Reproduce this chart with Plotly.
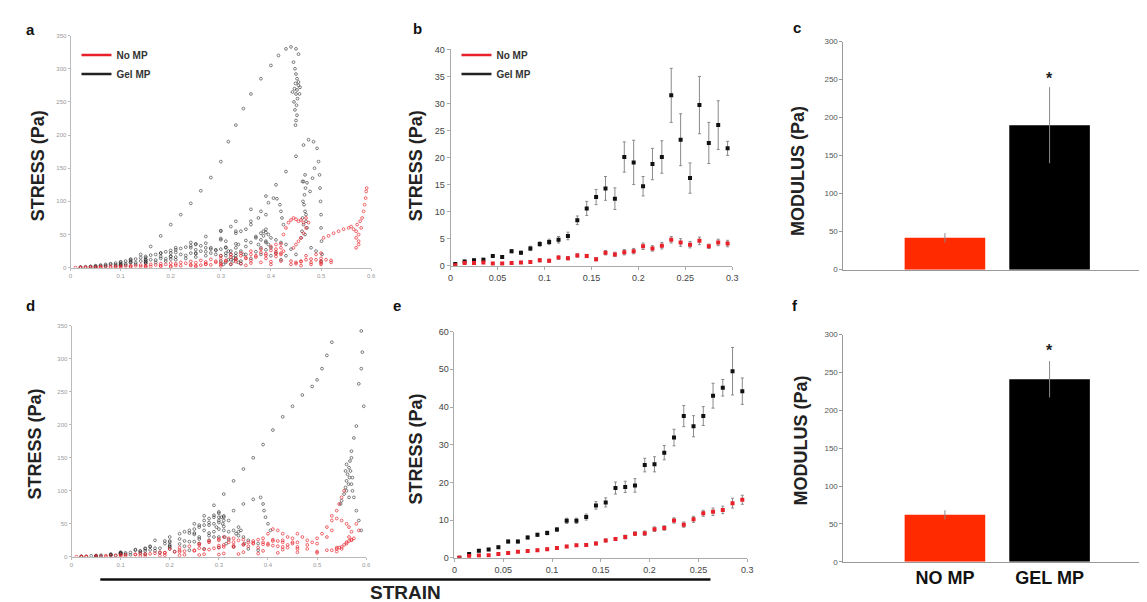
import plotly.graph_objects as go

# ---------------- DATA ----------------
# Panel a: raw stress-strain clouds (strain, stress Pa)
A_GEL = [
    (0.02,0.5),(0.04,1.5),(0.06,3),(0.08,5),(0.10,8),(0.12,13),(0.14,20),(0.16,32),(0.18,48),(0.20,65),
    (0.22,80),(0.24,97),(0.26,116),(0.28,136),(0.30,160),(0.315,190),(0.33,215),(0.345,240),(0.36,262),
    (0.38,285),(0.40,305),(0.415,320),(0.43,330),(0.44,333),(0.45,330),(0.455,322),
    (0.445,310),(0.448,300),(0.45,292),(0.452,285),(0.449,278),(0.455,275),(0.447,270),(0.452,268),
    (0.458,272),(0.45,262),(0.453,255),(0.446,250),(0.451,245),(0.448,238),(0.452,230),(0.45,222),
    (0.449,215),(0.455,280),(0.443,265),(0.457,262),
    (0.05,1),(0.1,5),(0.15,12),(0.2,22),(0.25,36),(0.3,55),(0.33,70),(0.36,88),(0.39,108),(0.41,125),
    (0.43,145),(0.45,168),(0.465,185),(0.475,193),(0.485,190),(0.492,180),(0.495,160),(0.497,140),
    (0.498,120),(0.499,100),(0.5,80),(0.5,60),(0.501,40),(0.502,20),(0.5,10),
    (0.468,140),(0.472,128),(0.478,115),(0.483,135),(0.487,150),(0.463,130),
    (0.1,4),(0.15,9),(0.2,17),(0.25,27),(0.3,42),(0.33,55),(0.36,70),(0.38,85),(0.395,98),(0.405,105),
    (0.412,104),(0.418,95),(0.42,85),(0.422,75),(0.425,65),
    (0.1,3),(0.15,7),(0.2,13),(0.25,22),(0.28,30),(0.31,40),(0.34,55),(0.36,65),(0.375,75),(0.39,80),
    (0.12,10),(0.15,15),(0.18,22),(0.21,30),(0.24,38),(0.27,47),(0.3,56),(0.32,62),
    (0.12,8),(0.15,12),(0.18,17),(0.21,23),(0.24,30),(0.27,37),(0.3,44),(0.33,52),(0.35,58),
    (0.04,2),(0.05,3),(0.06,4),(0.07,5),(0.08,6),(0.09,7),(0.1,9),(0.11,10),(0.12,12),(0.13,13),
    (0.14,15),(0.15,17),(0.16,19),(0.17,20),(0.18,22),(0.19,24),(0.2,26),(0.21,27),(0.22,29),(0.23,31),
    (0.24,33),(0.25,35),(0.26,33),(0.27,30),(0.28,28),(0.29,26),(0.3,28),(0.31,30),(0.315,25),(0.32,20),
    (0.325,15),(0.33,30),(0.335,35),(0.34,25),(0.345,20),(0.35,32),(0.36,38),(0.37,45),(0.38,52),
    (0.385,48),(0.39,40),(0.395,35),(0.4,30),(0.41,42),(0.42,38),(0.43,35),(0.44,28),(0.45,20),
    (0.05,1),(0.07,2),(0.09,3),(0.11,4),(0.13,5),(0.15,7),(0.17,8),(0.19,10),(0.21,12),(0.23,14),
    (0.25,16),(0.27,18),(0.29,20),(0.31,22),(0.33,18),(0.35,20),(0.37,24),(0.39,27),(0.41,22),(0.43,18),
    (0.1,6),(0.12,8),(0.14,10),(0.16,12),(0.18,14),(0.2,17),(0.22,20),(0.24,22),(0.26,25),(0.28,22),
    (0.3,18),(0.32,12),(0.34,10),(0.36,14),(0.38,20),(0.4,18),(0.42,12),
    (0.305,5),(0.31,8),(0.315,12),(0.32,5),(0.325,10),(0.33,14),(0.335,8),(0.34,6),(0.3,10),(0.31,18),
    (0.32,25),(0.33,22),
    (0.375,35),(0.38,42),(0.385,55),(0.39,58),(0.395,50),(0.4,45),(0.38,30),(0.39,38),
    (0.46,45),(0.462,55),(0.465,65),(0.463,75),(0.468,85),(0.466,95),(0.47,80),(0.464,100),(0.467,110),
    (0.469,120),(0.465,130),(0.47,70),(0.472,60),(0.468,50),(0.48,30),(0.49,25),
    (0.02,1),(0.03,1.5),(0.05,2.2),(0.07,3.3),(0.09,4.5),(0.11,6),(0.13,7.5),(0.15,9.5),(0.17,11.5),
    (0.19,13.5),(0.21,16),(0.23,18.5),(0.25,21),(0.27,24),(0.29,27),(0.31,31),(0.33,36),(0.35,41),
    (0.37,47),(0.39,53),
]
A_NO = [
    (0.02,0.3),(0.04,0.8),(0.06,1.2),(0.08,1.8),(0.1,2.5),(0.12,3.2),(0.14,4),(0.16,5),(0.18,6),(0.2,7),
    (0.22,8),(0.24,9.5),(0.26,11),(0.28,12.5),(0.3,14),(0.32,16),(0.34,18),(0.36,20),(0.38,23),(0.4,26),
    (0.41,28),(0.42,30),(0.425,25),
    (0.03,0.3),(0.06,0.6),(0.09,1),(0.12,1.5),(0.15,2),(0.18,2.8),(0.21,3.5),(0.24,4.5),(0.27,5.5),
    (0.3,7),(0.33,9),(0.36,11),(0.39,14),(0.41,17),(0.42,20),
    (0.05,0.2),(0.1,0.5),(0.15,0.8),(0.2,1.2),(0.25,1.8),(0.3,2.5),(0.35,3.5),(0.4,5),(0.45,6),(0.5,7),
    (0.25,3),(0.27,5),(0.29,8),(0.31,10),(0.33,13),(0.35,15),(0.37,18),(0.39,21),(0.41,24),(0.42,22),
    (0.425,50),(0.43,60),(0.435,68),(0.44,72),(0.445,75),(0.45,73),(0.455,70),(0.46,72),(0.465,68),
    (0.47,60),(0.465,52),(0.46,45),(0.455,40),(0.45,35),(0.445,30),(0.47,75),(0.475,68),
    (0.44,5),(0.45,8),(0.46,10),(0.47,12),(0.48,13),(0.49,12),(0.5,14),(0.51,12),(0.52,8),(0.46,3),
    (0.48,5),(0.5,5),(0.47,18),(0.49,20),(0.5,22),
    (0.505,45),(0.515,48),(0.525,52),(0.535,55),(0.545,58),(0.555,60),(0.56,62),(0.565,58),(0.57,55),
    (0.575,50),(0.57,45),(0.575,40),(0.572,65),(0.578,70),(0.58,60),(0.582,75),(0.585,85),(0.587,95),
    (0.589,105),(0.59,115),(0.591,120),(0.575,35),(0.57,30),
    (0.01,0.2),(0.03,0.5),(0.05,0.9),(0.07,1.3),(0.09,1.8),(0.11,2.3),(0.13,2.9),(0.15,3.5),(0.17,4.2),
    (0.19,5),(0.21,5.8),(0.23,6.7),(0.25,7.6),(0.27,8.6),(0.29,9.7),(0.31,11),(0.33,12.5),(0.35,14),
    (0.37,16),(0.39,18.5),(0.41,21),
    (0.02,0.1),(0.04,0.3),(0.06,0.5),(0.08,0.7),(0.1,1),(0.12,1.2),(0.14,1.5),(0.16,1.8),(0.18,2.1),
    (0.2,2.5),(0.22,2.9),(0.24,3.3),(0.26,3.8),(0.28,4.3),(0.3,4.9),(0.32,5.5),(0.34,6.2),(0.36,7),
    (0.38,8),(0.4,9),(0.42,10),(0.44,10),(0.46,9),(0.48,8),(0.5,9),(0.52,11),
    (0.3,18),(0.32,20),(0.34,22),(0.36,25),(0.38,28),(0.4,32),(0.41,35),(0.42,36),
]

# Panel d: raw stress-strain clouds
D_GEL = [
    (0.02,0.5),(0.05,2),(0.08,4),(0.1,6),(0.13,10),(0.16,16),(0.19,24),(0.22,35),(0.25,50),(0.27,62),
    (0.29,78),(0.31,95),(0.33,115),(0.35,133),(0.37,150),(0.39,170),(0.41,192),(0.43,212),(0.45,228),
    (0.47,245),(0.49,258),(0.5,268),(0.51,285),(0.52,305),(0.53,325),
    (0.59,342),(0.592,310),(0.59,285),(0.585,262),(0.595,228),(0.58,198),(0.575,180),(0.57,160),
    (0.572,120),(0.575,90),(0.58,70),(0.585,55),(0.59,40),
    (0.555,95),(0.558,105),(0.56,115),(0.562,125),(0.565,135),(0.567,145),(0.57,150),(0.56,140),
    (0.558,130),(0.566,120),(0.57,110),(0.572,100),(0.565,90),(0.55,85),(0.548,80),(0.56,100),
    (0.564,110),(0.568,130),
    (0.05,1),(0.1,5),(0.15,12),(0.2,22),(0.25,36),(0.28,48),(0.31,60),(0.33,70),(0.35,80),(0.37,87),
    (0.385,90),(0.39,80),(0.392,70),(0.395,60),(0.4,50),(0.405,40),
    (0.05,1.5),(0.1,6),(0.15,13),(0.2,24),(0.24,36),(0.27,48),(0.29,60),(0.3,68),(0.305,60),(0.308,50),
    (0.31,40),(0.312,30),(0.315,20),
    (0.1,4),(0.15,9),(0.2,15),(0.25,23),(0.29,30),(0.32,38),(0.34,45),(0.345,40),(0.35,30),(0.352,20),
    (0.05,1),(0.08,3),(0.11,6),(0.14,9),(0.17,13),(0.2,18),(0.23,24),(0.26,30),(0.28,36),(0.3,42),(0.31,46),
    (0.08,2),(0.11,4),(0.14,6),(0.17,9),(0.2,12),(0.23,16),(0.26,20),(0.28,25),(0.3,30),(0.32,26),
    (0.34,32),(0.36,25),(0.38,20),
    (0.1,7),(0.13,11),(0.16,15),(0.19,20),(0.22,27),(0.25,34),(0.27,40),(0.29,50),(0.3,55),(0.31,62),(0.32,55),
    (0.03,0.5),(0.06,1),(0.09,2),(0.12,3),(0.15,4),(0.18,6),(0.21,8),(0.24,10),(0.27,12),(0.3,14),
    (0.33,15),(0.36,12),(0.38,10),
    (0.17,25),(0.2,30),(0.23,38),(0.26,45),(0.28,52),
    (0.02,0.8),(0.04,1.5),(0.06,2.5),(0.08,3.6),(0.1,5),(0.12,6.5),(0.14,8.3),(0.16,10.5),(0.18,13),
    (0.2,16),(0.22,19.5),(0.24,23),(0.26,27),(0.28,32),(0.29,38),(0.295,45),(0.3,52),(0.3,60),
    (0.24,40),(0.25,42),(0.26,48),(0.27,55),(0.28,58),(0.29,63),(0.3,66),(0.31,55),(0.33,40),
    (0.335,35),(0.34,38),
]
D_NO = [
    (0.02,0.3),(0.05,1),(0.08,1.8),(0.1,2.5),(0.13,3.5),(0.16,4.5),(0.19,6),(0.22,7.5),(0.25,9),(0.28,11),
    (0.3,14),(0.31,18),(0.32,22),(0.33,15),(0.35,18),(0.37,20),(0.39,22),(0.41,24),(0.43,22),(0.45,20),
    (0.03,0.2),(0.07,0.6),(0.11,1),(0.15,1.6),(0.19,2.3),(0.23,3),(0.27,4),(0.31,5),(0.35,7),(0.39,9),
    (0.43,11),(0.46,12),(0.5,8),(0.52,10),(0.54,14),(0.56,20),(0.57,25),(0.575,28),
    (0.1,3),(0.14,5),(0.18,7),(0.22,10),(0.26,13),(0.3,17),(0.33,22),(0.36,16),(0.38,14),(0.4,18),
    (0.42,16),(0.44,14),
    (0.26,18),(0.28,22),(0.3,25),(0.32,28),(0.34,25),(0.36,22),(0.38,26),(0.4,20),(0.42,24),(0.44,18),
    (0.46,15),(0.48,12),
    (0.4,35),(0.41,42),(0.42,40),(0.43,35),(0.44,30),(0.45,28),(0.46,35),(0.47,30),(0.48,25),(0.49,22),
    (0.5,28),(0.51,35),(0.52,45),(0.53,55),(0.54,58),(0.55,55),(0.56,50),(0.565,45),(0.57,38),(0.565,30),
    (0.53,40),(0.52,30),(0.5,20),(0.48,18),(0.46,22),
    (0.54,70),(0.545,80),(0.55,90),(0.555,100),(0.53,62),(0.58,50),(0.585,40),
    (0.53,10),(0.54,12),(0.55,15),(0.555,18),(0.56,22),(0.565,24),(0.57,26),(0.545,14),(0.55,12),
    (0.01,0.2),(0.03,0.6),(0.05,1.1),(0.07,1.6),(0.09,2.2),(0.11,2.9),(0.13,3.6),(0.15,4.4),(0.17,5.3),
    (0.19,6.3),(0.21,7.4),(0.23,8.6),(0.25,10),(0.27,11.5),(0.29,13),(0.31,15),(0.33,17),(0.35,19),
    (0.37,21),(0.39,19),(0.41,17),(0.43,15),
    (0.02,0.1),(0.06,0.4),(0.1,0.8),(0.14,1.2),(0.18,1.7),(0.22,2.2),(0.26,2.8),(0.3,3.5),(0.34,4.2),
    (0.38,5),(0.42,6),(0.46,7),(0.5,6),(0.54,8),
    (0.2,12),(0.22,14),(0.24,16),(0.26,20),(0.28,24),(0.3,27),(0.31,30),(0.33,28),(0.35,26),(0.37,24),
    (0.39,28),(0.41,26),(0.43,25),(0.45,22),
]

# Panels b and e: binned mean stress +/- error
STRAIN_BINS = [0.005,0.015,0.025,0.035,0.045,0.055,0.065,0.075,0.085,0.095,
               0.105,0.115,0.125,0.135,0.145,0.155,0.165,0.175,0.185,0.195,
               0.205,0.215,0.225,0.235,0.245,0.255,0.265,0.275,0.285,0.295]
B_GEL = [0.3,0.8,1.0,1.1,1.8,1.6,2.7,2.4,3.2,4.0,4.4,4.8,5.5,8.4,10.6,12.7,14.3,12.4,20.1,19.1,
         14.7,18.8,20.1,31.5,23.3,16.2,29.7,22.7,26.0,21.7]
B_GEL_ERR = [0.1,0.2,0.3,0.3,0.2,0.2,0.3,0.3,0.4,0.4,0.5,0.6,0.7,0.8,1.3,1.4,2.2,2.0,2.8,4.1,
             1.8,2.9,3.0,5.0,4.8,2.8,5.3,3.8,4.5,1.3]
B_NO = [0.1,0.5,0.5,0.6,0.4,0.4,0.5,0.6,0.7,1.0,0.9,1.5,1.4,1.9,1.8,1.2,2.4,2.1,2.5,2.7,
        3.6,3.2,3.7,4.8,4.3,3.9,4.6,3.6,4.3,4.1]
B_NO_ERR = [0.1,0.2,0.2,0.2,0.2,0.2,0.2,0.2,0.2,0.3,0.3,0.3,0.3,0.3,0.3,0.3,0.4,0.4,0.5,0.5,
            0.6,0.5,0.6,0.6,0.7,0.6,0.7,0.4,0.6,0.6]
E_GEL = [0.0,1.0,1.9,2.2,2.8,4.3,4.3,5.4,6.1,6.6,7.5,9.8,9.8,10.8,13.9,14.7,18.5,18.8,19.2,24.6,
         24.8,27.9,31.9,37.6,34.9,37.6,43.0,45.1,49.5,44.2]
E_GEL_ERR = [0.2,0.3,0.3,0.3,0.3,0.4,0.4,0.4,0.4,0.5,0.5,0.7,0.7,0.8,1.0,1.2,1.6,1.5,1.8,1.8,
             2.0,1.9,2.2,2.8,2.8,2.5,3.3,2.2,6.3,3.5]
E_NO = [0.0,0.5,0.6,0.7,1.0,1.3,1.6,1.8,2.0,2.3,2.6,3.0,3.3,3.4,3.8,4.6,5.0,5.5,6.4,6.5,
        7.6,7.9,9.9,8.8,10.2,11.8,12.2,12.7,14.5,15.4]
E_NO_ERR = [0.1,0.2,0.2,0.2,0.2,0.2,0.2,0.2,0.3,0.3,0.3,0.3,0.3,0.3,0.4,0.4,0.4,0.5,0.5,0.6,
            0.6,0.6,0.7,0.7,0.8,0.8,1.0,1.0,1.3,1.2]

# Panels c and f: modulus
GROUPS = ["NO MP", "GEL MP"]
C_MOD = [42, 190]
C_ERR = [6, 50]
F_MOD = [62, 241]
F_ERR = [6, 24]

RAW_X_TICKS = [0, 0.1, 0.2, 0.3, 0.4, 0.5, 0.6]
RAW_X_LABELS = ["0", "0.1", "0.2", "0.3", "0.4", "0.5", "0.6"]
RAW_Y_TICKS = [0, 50, 100, 150, 200, 250, 300, 350]
BIN_X_TICKS = [0, 0.05, 0.1, 0.15, 0.2, 0.25, 0.3]
BIN_X_LABELS = ["0", "0.05", "0.1", "0.15", "0.2", "0.25", "0.3"]
MOD_Y_TICKS = [0, 50, 100, 150, 200, 250, 300]

RED = "#e8202a"
BAR_RED = "#ff2a00"
FONT = "Liberation Sans, Arial, sans-serif"

W, H = 1147, 602
def px(x): return x / W
def py(y): return 1 - y / H

fig = go.Figure()

def cloud(pts, color, xa, ya, opacity):
    fig.add_trace(go.Scatter(
        x=[p[0] for p in pts], y=[p[1] for p in pts], mode="markers",
        marker=dict(symbol="circle-open", size=2.8, color=color, opacity=opacity, line=dict(width=0.8)),
        xaxis=xa, yaxis=ya, showlegend=False, hoverinfo="skip"))

cloud(A_GEL, "#222222", "x", "y", 0.7)
cloud(A_NO, RED, "x", "y", 0.85)
cloud(D_GEL, "#222222", "x4", "y4", 0.7)
cloud(D_NO, RED, "x4", "y4", 0.85)

def binned(vals, errs, color, xa, ya):
    fig.add_trace(go.Scatter(
        x=STRAIN_BINS, y=vals, mode="markers",
        marker=dict(symbol="square", size=4, color=color),
        error_y=dict(type="data", array=errs, color="#8a8a8a", thickness=1, width=1.5),
        xaxis=xa, yaxis=ya, showlegend=False, hoverinfo="skip"))

binned(B_GEL, B_GEL_ERR, "#111111", "x2", "y2")
binned(B_NO, B_NO_ERR, RED, "x2", "y2")
binned(E_GEL, E_GEL_ERR, "#111111", "x5", "y5")
binned(E_NO, E_NO_ERR, RED, "x5", "y5")

for vals, errs, xa, ya in [(C_MOD, C_ERR, "x3", "y3"), (F_MOD, F_ERR, "x6", "y6")]:
    fig.add_trace(go.Bar(
        x=GROUPS, y=vals, width=0.77,
        marker=dict(color=[BAR_RED, "#000000"], line=dict(width=0)),
        error_y=dict(type="data", array=errs, color="#8a8a8a", thickness=1, width=0),
        xaxis=xa, yaxis=ya, showlegend=False, hoverinfo="skip"))

# legend entries
for lg in ["legend", "legend2"]:
    for nm, col in [("No MP", RED), ("Gel MP", "#222222")]:
        fig.add_trace(go.Scatter(x=[None], y=[None], mode="lines", name="<b>%s</b>" % nm,
                                 line=dict(color=col, width=2.5), legend=lg, xaxis="x", yaxis="y"))

raw_tick = dict(showgrid=False, zeroline=False, showline=True, linecolor="#bbbbbb", linewidth=1,
                ticks="outside", ticklen=2, tickcolor="#bbbbbb",
                tickfont=dict(size=6, color="#999999", family=FONT))
bin_tick = dict(showgrid=False, zeroline=False, showline=True, linecolor="#aaaaaa", linewidth=1,
                ticks="outside", ticklen=3, tickcolor="#aaaaaa",
                tickfont=dict(size=9, color="#444444", family=FONT))
mod_tick = dict(showgrid=False, zeroline=False, showline=True, linecolor="#999999", linewidth=1,
                ticks="outside", ticklen=3, tickcolor="#999999",
                tickfont=dict(size=8, color="#555555", family=FONT))

fig.update_layout(
    width=W, height=H, margin=dict(l=0, r=0, t=0, b=0),
    paper_bgcolor="white", plot_bgcolor="white",
    font=dict(family=FONT),
    xaxis=dict(domain=[px(60), px(363)], range=[0, 0.6], tickvals=RAW_X_TICKS, ticktext=RAW_X_LABELS,
               anchor="y", **raw_tick),
    yaxis=dict(domain=[py(259), py(23)], range=[0, 350], tickvals=RAW_Y_TICKS, anchor="x", **raw_tick),
    xaxis2=dict(domain=[px(443), px(727)], range=[0, 0.3], tickvals=BIN_X_TICKS, ticktext=BIN_X_LABELS,
                anchor="y2", **bin_tick),
    yaxis2=dict(domain=[py(257), py(37)], range=[0, 40], dtick=5, anchor="x2", **bin_tick),
    xaxis3=dict(domain=[px(839), 1.0], range=[-0.97, 1.95], showticklabels=False, anchor="y3",
                showgrid=False, zeroline=False, showline=True, linecolor="#999999", ticks=""),
    yaxis3=dict(domain=[py(261), py(29)], range=[0, 300], tickvals=MOD_Y_TICKS, anchor="x3", **mod_tick),
    xaxis4=dict(domain=[px(61), px(358)], range=[0, 0.6], tickvals=RAW_X_TICKS, ticktext=RAW_X_LABELS,
                anchor="y4", **raw_tick),
    yaxis4=dict(domain=[py(553), py(318)], range=[0, 350], tickvals=RAW_Y_TICKS, anchor="x4", **raw_tick),
    xaxis5=dict(domain=[px(447), px(742)], range=[0, 0.3], tickvals=BIN_X_TICKS, ticktext=BIN_X_LABELS,
                anchor="y5", **bin_tick),
    yaxis5=dict(domain=[py(554), py(324)], range=[0, 60], dtick=10, anchor="x5", **bin_tick),
    xaxis6=dict(domain=[px(839), 1.0], range=[-0.97, 1.95], anchor="y6",
                showgrid=False, zeroline=False, showline=True, linecolor="#999999", ticks="",
                tickvals=GROUPS, ticktext=["<b>NO MP</b>", "<b>GEL MP</b>"],
                tickfont=dict(size=18, color="#111111", family=FONT)),
    yaxis6=dict(domain=[py(558), py(327)], range=[0, 300], tickvals=MOD_Y_TICKS, anchor="x6", **mod_tick),
    legend=dict(x=px(66), y=py(28), xanchor="left", yanchor="top", bgcolor="rgba(0,0,0,0)",
                font=dict(size=10, color="#333333", family=FONT), itemwidth=30, tracegroupgap=0),
    legend2=dict(x=px(449), y=py(28), xanchor="left", yanchor="top", bgcolor="rgba(0,0,0,0)",
                 font=dict(size=10, color="#333333", family=FONT), itemwidth=30, tracegroupgap=0),
)

ann = []
def txt(x, y, s, size, angle=0, color="#111111"):
    ann.append(dict(x=px(x), y=py(y), xref="paper", yref="paper", text=s, showarrow=False,
                    textangle=angle, xanchor="center", yanchor="middle",
                    font=dict(size=size, color=color, family=FONT)))

for (x, y, s) in [(20, 17, "a"), (410, 16, "b"), (792, 15, "c"), (20, 297, "d"), (389, 297, "e"), (790, 297, "f")]:
    txt(x, y, "<b>%s</b>" % s, 15)
for (x, y) in [(28, 155), (409, 155), (24, 438), (408, 443)]:
    txt(x, y, "<b>STRESS (Pa)</b>", 18, -90, "#222222")
for (x, y) in [(794, 161), (796, 435)]:
    txt(x, y, "<b>MODULUS (Pa)</b>", 18, -90, "#222222")
txt(398, 589, "<b>STRAIN</b>", 19, 0, "#222222")

# significance stars
ann.append(dict(x="GEL MP", y=C_MOD[1] + C_ERR[1] + 12, xref="x3", yref="y3", text="<b>*</b>",
                showarrow=False, font=dict(size=16, color="#222222", family=FONT)))
ann.append(dict(x="GEL MP", y=F_MOD[1] + F_ERR[1] + 14, xref="x6", yref="y6", text="<b>*</b>",
                showarrow=False, font=dict(size=16, color="#222222", family=FONT)))
fig.update_layout(annotations=ann)

fig.add_shape(type="line", xref="paper", yref="paper", x0=px(90), x1=px(705), y0=py(576), y1=py(576),
              line=dict(color="#111111", width=2.5))

fig.write_html("out.html")
